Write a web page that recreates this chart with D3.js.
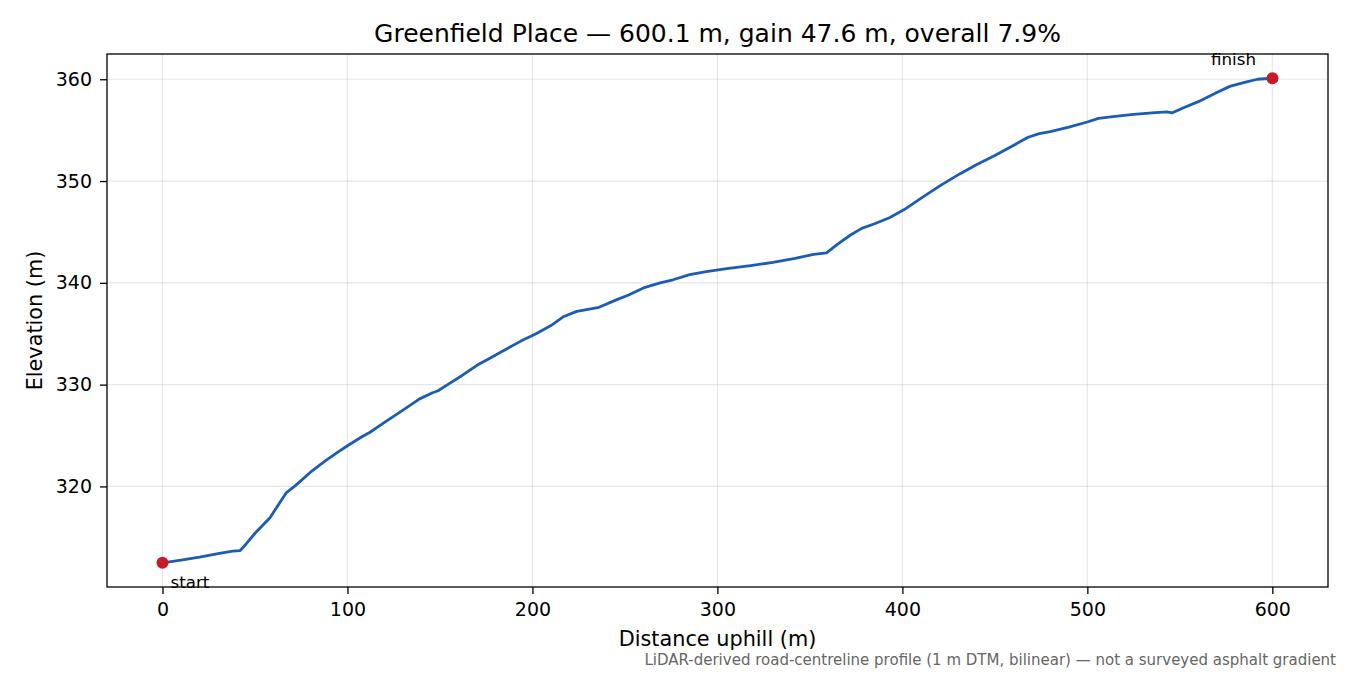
<!DOCTYPE html>
<html><head><meta charset="utf-8">
<script src="https://cdn.jsdelivr.net/npm/d3@7"></script>
<style>body{margin:0;background:#fff;} text{font-family:"DejaVu Sans",sans-serif;}</style>
</head><body>
<svg id="c" width="1350" height="675"></svg>
<script>
const distance = [0,10,20,30,38,42,45,50,58,67,72,80,88,95,100,108,112,120,130,139,146,149,155,162,170,176,185,194,202,210,217,224,230,236,245,252,260,269,276,285,294,305,318,330,342,352,359,365,372,378,385,393,401,410,420,431,440,450,460,468,474,480,490,500,506,515,525,535,543,546,552,560,570,577,585,592,600.1];
const elevation = [312.5,312.75,313.05,313.4,313.65,313.7,314.3,315.4,316.9,319.4,320.1,321.4,322.5,323.4,324.0,324.9,325.3,326.3,327.5,328.6,329.2,329.4,330.1,330.9,331.9,332.5,333.4,334.3,335.0,335.8,336.7,337.2,337.4,337.6,338.3,338.8,339.5,340.0,340.3,340.8,341.1,341.4,341.7,342.0,342.4,342.8,342.95,343.8,344.7,345.35,345.8,346.4,347.2,348.3,349.5,350.7,351.6,352.5,353.5,354.3,354.65,354.85,355.3,355.8,356.15,356.35,356.55,356.7,356.8,356.7,357.2,357.8,358.7,359.3,359.7,360.0,360.1];
const xTicks = [0,100,200,300,400,500,600];
const yTicks = [320,330,340,350,360];
const titleText = "Greenfield Place — 600.1 m, gain 47.6 m, overall 7.9%";
const xLabel = "Distance uphill (m)";
const yLabel = "Elevation (m)";
const note = "LiDAR-derived road-centreline profile (1 m DTM, bilinear) — not a surveyed asphalt gradient";

const L=107,R=1328,T=54,B=587;
const svg=d3.select("#c");
const xmin=d3.min(distance),xmax=d3.max(distance),ymin=d3.min(elevation),ymax=d3.max(elevation);
const xp=(xmax-xmin)*0.05, yp=(ymax-ymin)*0.05;
const x=d3.scaleLinear().domain([xmin-xp,xmax+xp]).range([L,R]);
const y=d3.scaleLinear().domain([ymin-yp,ymax+yp]).range([B,T]);

// grid
svg.append("g").selectAll("line").data(xTicks).join("line")
  .attr("x1",d=>x(d)).attr("x2",d=>x(d)).attr("y1",T).attr("y2",B)
  .attr("stroke","#b0b0b0").attr("stroke-opacity",0.3).attr("stroke-width",1.2);
svg.append("g").selectAll("line").data(yTicks).join("line")
  .attr("y1",d=>y(d)).attr("y2",d=>y(d)).attr("x1",L).attr("x2",R)
  .attr("stroke","#b0b0b0").attr("stroke-opacity",0.3).attr("stroke-width",1.2);

// axes
const xa=svg.append("g").attr("transform",`translate(0,${B})`)
  .call(d3.axisBottom(x).tickValues(xTicks).tickSize(7).tickPadding(9).tickFormat(d3.format("d")));
const ya=svg.append("g").attr("transform",`translate(${L},0)`)
  .call(d3.axisLeft(y).tickValues(yTicks).tickSize(7).tickPadding(8).tickFormat(d3.format("d")));
[xa,ya].forEach(a=>{a.select(".domain").remove();a.selectAll("text").attr("font-size",19).attr("fill","#000").style("font-family","DejaVu Sans");a.selectAll("line").attr("stroke","#000").attr("stroke-width",1.3);});
svg.append("rect").attr("x",L).attr("y",T).attr("width",R-L).attr("height",B-T)
  .attr("fill","none").attr("stroke","#000").attr("stroke-width",1.3);

// line
svg.append("path").datum(distance.map((d,i)=>[d,elevation[i]]))
  .attr("d",d3.line().x(d=>x(d[0])).y(d=>y(d[1])))
  .attr("fill","none").attr("stroke","#1b5cb4").attr("stroke-width",2.8).attr("stroke-linejoin","round");

// endpoints
const ends=[[distance[0],elevation[0]],[distance[distance.length-1],elevation[elevation.length-1]]];
svg.selectAll("circle.e").data(ends).join("circle").attr("class","e")
  .attr("cx",d=>x(d[0])).attr("cy",d=>y(d[1])).attr("r",6).attr("fill","#c41a2a");
svg.append("text").attr("x",x(ends[0][0])+8).attr("y",y(ends[0][1])+25).attr("font-size",16.7).text("start");
svg.append("text").attr("x",x(ends[1][0])-39).attr("y",y(ends[1][1])-13).attr("text-anchor","middle").attr("font-size",16.7).text("finish");

// labels
svg.append("text").attr("x",(L+R)/2).attr("y",42).attr("text-anchor","middle").attr("font-size",25).text(titleText);
svg.append("text").attr("x",(L+R)/2).attr("y",646).attr("text-anchor","middle").attr("font-size",20.8).text(xLabel);
svg.append("text").attr("transform",`translate(42,${(T+B)/2}) rotate(-90)`).attr("text-anchor","middle").attr("font-size",20.8).text(yLabel);
svg.append("text").attr("x",1336).attr("y",665).attr("text-anchor","end").attr("font-size",15).attr("fill","#666").text(note);
</script>
</body></html>
